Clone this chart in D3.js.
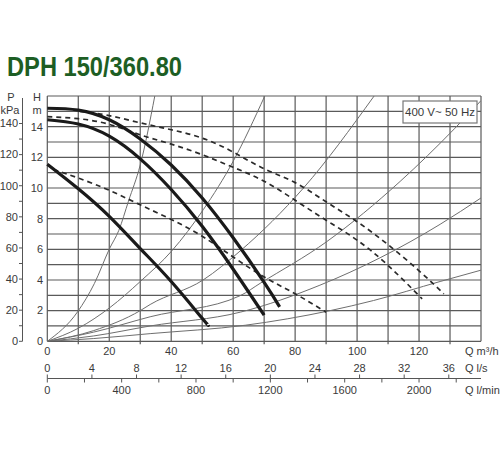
<!DOCTYPE html>
<html>
<head>
<meta charset="utf-8">
<script src="https://cdn.jsdelivr.net/npm/d3@7"></script>
<style>
body { margin: 0; background: #fff; }
text { font-family: "Liberation Sans", Arial, sans-serif; fill: #3a3a3a; }
</style>
</head>
<body>
<div id="chart"></div>
<script>
var width = 500,
    height = 450;

// tick labels
var qTicks = [0, 20, 40, 60, 80, 100, 120];
var lsTicks = [0, 4, 8, 12, 16, 20, 24, 28, 32, 36];
var lminTicks = [0, 400, 800, 1200, 1600, 2000];
var hTicks = [0, 2, 4, 6, 8, 10, 12, 14];
var pTicks = [0, 20, 40, 60, 80, 100, 120, 140];

// pump curves, [Q m3/h, H m]
var pumpMax = [[0, 15.2], [10, 15.08], [20, 14.45], [30, 13.2], [40, 11.5], [50, 9.35], [60, 6.75], [70, 3.85], [75, 2.25]];
var pumpMid = [[0, 14.45], [10, 14.17], [20, 13.38], [30, 11.9], [40, 9.9], [50, 7.5], [60, 4.7], [70, 1.7]];
var pumpMin = [[0, 11.55], [10, 9.95], [20, 8.15], [30, 6.05], [40, 3.9], [50, 1.5], [52, 1.05]];

// dashed curves
var dashTop = [[10.5, 15.0], [20, 14.72], [30, 14.25], [40, 13.8], [50, 13.25], [60, 12.34], [70, 11.25], [80, 10.35], [90, 9.1], [100, 7.8], [110, 6.3], [120, 4.6], [128, 3.1]];
var dashMid = [[0, 14.65], [10, 14.52], [20, 14.15], [30, 13.47], [40, 12.86], [50, 12.17], [60, 11.35], [70, 10.44], [80, 9.2], [90, 7.9], [100, 6.6], [110, 4.95], [121, 2.77]];
var dashLow = [[2, 11.2], [10, 10.65], [20, 9.85], [30, 8.9], [40, 7.95], [50, 6.85], [60, 5.5], [70, 4.2], [80, 3.1], [90, 1.9]];

// system curves (thin)
var sys1 = [[0, 0], [9.8, 1.93], [15.2, 3.77], [20.1, 6.05], [23.1, 7.24], [26.2, 9.14], [30, 11.5], [34.7, 16]];
var sys2 = [[0, 0], [10, 0.85], [20.2, 2.2], [30, 3.9], [40.2, 5.9], [50.4, 8.6], [60, 11.74], [70.2, 16]];
var sys3 = [[0, 0], [15, 0.7], [30, 2.0], [33.2, 2.4], [50.3, 4.0], [62.3, 5.9], [82.7, 10.0], [105.5, 16]];
var sys4 = [[0, 0], [15, 0.6], [33.2, 1.6], [62.3, 2.98], [68.7, 3.78], [90.2, 6.5], [113.9, 10.43], [131.6, 13.9], [140, 15.7]];
var sys5 = [[0, 0], [15, 0.35], [33.2, 1.0], [62.3, 1.9], [88, 3.66], [126.8, 7.63], [140, 9.35]];
var sys6 = [[0, 0], [15, 0.18], [33.2, 0.5], [64, 1.05], [91.3, 2.0], [105.3, 2.66], [126.8, 3.9], [140, 4.64]];

var svg = d3.select("#chart")
    .append("svg")
    .attr("width", width)
    .attr("height", height);

var x = d3.scaleLinear().domain([0, 140]).range([47.3, 481]);
var y = d3.scaleLinear().domain([0, 16]).range([341.3, 96]);
var p = d3.scaleLinear().domain([0, 140]).range([341.3, 123.5]);
var xls = d3.scaleLinear().domain([0, 140 / 3.6]).range(x.range());
var xlmin = d3.scaleLinear().domain([0, 140 * 1000 / 60]).range(x.range());

// title
svg.append("text")
    .attr("x", 7)
    .attr("y", 76)
    .attr("textLength", 175)
    .attr("lengthAdjust", "spacingAndGlyphs")
    .style("font-weight", "bold")
    .style("font-size", "27px")
    .style("fill", "#1d5e24")
    .text("DPH 150/360.80");

svg.append("clipPath").attr("id", "plot")
    .append("rect")
    .attr("x", x(0)).attr("y", y(16))
    .attr("width", x(140) - x(0)).attr("height", y(0) - y(16));

// grid
var grid = svg.append("g").attr("stroke", "#5a5a5a").attr("stroke-width", 1.2);
grid.selectAll(".v")
    .data(d3.range(0, 141, 10))
    .enter().append("line")
    .attr("x1", function (d) { return x(d); })
    .attr("x2", function (d) { return x(d); })
    .attr("y1", y(16))
    .attr("y2", function (d) { return d % 20 ? y(0) + 3 : y(0); });
grid.selectAll(".h")
    .data(d3.range(0, 17, 1))
    .enter().append("line")
    .attr("x1", x(0))
    .attr("x2", x(140))
    .attr("y1", function (d) { return y(d); })
    .attr("y2", function (d) { return y(d); });

function lineWith(curve) {
    return d3.line()
        .x(function (d) { return x(d[0]); })
        .y(function (d) { return y(d[1]); })
        .curve(curve);
}

// system curves
svg.append("g")
    .attr("clip-path", "url(#plot)")
    .selectAll("path")
    .data([sys1, sys2, sys3, sys4, sys5, sys6])
    .enter().append("path")
    .attr("d", lineWith(d3.curveMonotoneX))
    .attr("fill", "none")
    .attr("stroke", "#6e6e6e")
    .attr("stroke-width", 1);

// dashed curves
svg.append("g")
    .selectAll("path")
    .data([dashTop, dashMid, dashLow])
    .enter().append("path")
    .attr("d", lineWith(d3.curveNatural))
    .attr("fill", "none")
    .attr("stroke", "#2a2a2a")
    .attr("stroke-width", 1.7)
    .attr("stroke-dasharray", "5,4");

// pump curves
svg.append("g")
    .selectAll("path")
    .data([pumpMax, pumpMid, pumpMin])
    .enter().append("path")
    .attr("d", lineWith(d3.curveNatural))
    .attr("fill", "none")
    .attr("stroke", "#1a1a1a")
    .attr("stroke-width", 3.2);

// legend box
svg.append("rect")
    .attr("x", 403).attr("y", 101)
    .attr("width", 74).attr("height", 22)
    .attr("fill", "#fff")
    .attr("stroke", "#777")
    .attr("stroke-width", 1.2);
svg.append("text")
    .attr("x", 440).attr("y", 116)
    .attr("text-anchor", "middle")
    .style("font-size", "11.5px")
    .text("400 V~ 50 Hz");

// H axis labels
svg.selectAll(".hl")
    .data(hTicks)
    .enter().append("text")
    .attr("x", 43)
    .attr("y", function (d) { return y(d); })
    .attr("dy", "0.35em")
    .attr("text-anchor", "end")
    .style("font-size", "11px")
    .text(function (d) { return d; });
svg.append("text").attr("x", 37).attr("y", 101).attr("text-anchor", "middle").style("font-size", "11px").text("H");
svg.append("text").attr("x", 37).attr("y", 114).attr("text-anchor", "middle").style("font-size", "11px").text("m");

// P axis
var pAxis = svg.append("g").attr("stroke", "#555").attr("stroke-width", 1);
pAxis.append("line").attr("x1", 22.5).attr("x2", 22.5).attr("y1", 98).attr("y2", p(0));
pAxis.selectAll(".pt")
    .data(d3.range(0, 141, 10))
    .enter().append("line")
    .attr("x1", 19).attr("x2", 22.5)
    .attr("y1", function (d) { return p(d); })
    .attr("y2", function (d) { return p(d); });
svg.selectAll(".pl")
    .data(pTicks)
    .enter().append("text")
    .attr("x", 18)
    .attr("y", function (d) { return p(d); })
    .attr("dy", "0.35em")
    .attr("text-anchor", "end")
    .style("font-size", "11px")
    .text(function (d) { return d; });
svg.append("text").attr("x", 11).attr("y", 101).attr("text-anchor", "middle").style("font-size", "11px").text("P");
svg.append("text").attr("x", 10).attr("y", 114).attr("text-anchor", "middle").style("font-size", "11px").text("kPa");

// Q m3/h labels
svg.selectAll(".ql")
    .data(qTicks)
    .enter().append("text")
    .attr("x", function (d) { return x(d); })
    .attr("y", 355)
    .attr("text-anchor", "middle")
    .style("font-size", "11px")
    .text(function (d) { return d; });
svg.append("text").attr("x", 465).attr("y", 355).style("font-size", "11px").text("Q m³/h");

// Q l/s and l/min axis
var axisY = 378.5;
var bAxis = svg.append("g").attr("stroke", "#555").attr("stroke-width", 1);
bAxis.append("line").attr("x1", x(0)).attr("x2", x(140)).attr("y1", axisY).attr("y2", axisY);
bAxis.selectAll(".lst")
    .data(lsTicks)
    .enter().append("line")
    .attr("x1", function (d) { return xls(d); })
    .attr("x2", function (d) { return xls(d); })
    .attr("y1", axisY - 4).attr("y2", axisY);
bAxis.selectAll(".lmt")
    .data(d3.range(0, 2201, 200))
    .enter().append("line")
    .attr("x1", function (d) { return xlmin(d); })
    .attr("x2", function (d) { return xlmin(d); })
    .attr("y1", axisY).attr("y2", axisY + 4);

svg.selectAll(".lsl")
    .data(lsTicks)
    .enter().append("text")
    .attr("x", function (d) { return xls(d); })
    .attr("y", 372)
    .attr("text-anchor", "middle")
    .style("font-size", "11px")
    .text(function (d) { return d; });
svg.append("text").attr("x", 465).attr("y", 372).style("font-size", "11px").text("Q l/s");

svg.selectAll(".lml")
    .data(lminTicks)
    .enter().append("text")
    .attr("x", function (d) { return xlmin(d); })
    .attr("y", 394)
    .attr("text-anchor", "middle")
    .style("font-size", "11px")
    .text(function (d) { return d; });
svg.append("text").attr("x", 465).attr("y", 394).style("font-size", "11px").text("Q l/min");
</script>
</body>
</html>
